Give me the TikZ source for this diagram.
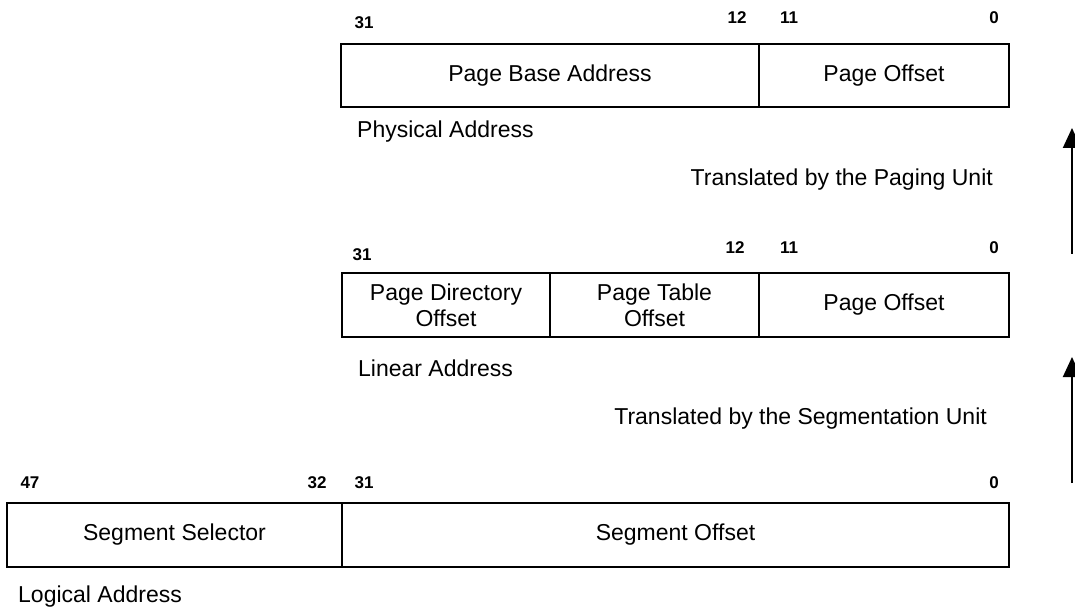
\documentclass[tikz,border=0pt]{standalone}
\usepackage{fontspec}
\setmainfont{Liberation Sans}
\usetikzlibrary{arrows.meta}
\tikzset{
  cell/.style={draw, line width=1.5bp, inner sep=0pt, align=center,
    font=\fontsize{23bp}{26bp}\selectfont},
  bit/.style={inner sep=0pt, font=\fontsize{17bp}{19bp}\selectfont\bfseries},
  caption/.style={inner sep=0pt, font=\fontsize{23bp}{26bp}\selectfont},
  uparrow/.style={line width=2bp, -{Triangle[length=20bp,width=18bp]}}
}
\begin{document}
\begin{tikzpicture}[x=1bp,y=-1bp]
\useasboundingbox (0,0) rectangle (1075,612);
% Physical address
\node[cell, minimum width=418bp, minimum height=63bp] (pba) at (550,75.5) {Page Base Address};
\node[cell, minimum width=250bp, minimum height=63bp] (po1) at (884,75.5) {Page Offset};
\node[bit] (p31) at (364,23) {31};
\node[bit] (p12) at (737,18) {12};
\node[bit] (p11) at (789,18) {11};
\node[bit] (p0) at (994,18) {0};
\node[caption, anchor=west] (phys) at (357,132) {Physical Address};
\node[caption, anchor=east] (tpu) at (993,180) {Translated by the Paging Unit};
% Linear address
\node[cell, minimum width=208bp, minimum height=64bp] (pdo) at (446,305) {Page Directory\\Offset};
\node[cell, minimum width=209bp, minimum height=64bp] (pto) at (654.5,305) {Page Table\\Offset};
\node[cell, minimum width=250bp, minimum height=64bp] (po2) at (884,305) {Page Offset};
\node[bit] (l31) at (362,255) {31};
\node[bit] (l12) at (735,248) {12};
\node[bit] (l11) at (789,248) {11};
\node[bit] (l0) at (994,248) {0};
\node[caption, anchor=west] (lin) at (358,368) {Linear Address};
\node[caption, anchor=east] (tsu) at (987,419) {Translated by the Segmentation Unit};
% Logical address
\node[cell, minimum width=335bp, minimum height=64bp] (ss) at (174.5,535) {Segment Selector};
\node[cell, minimum width=667bp, minimum height=64bp] (so) at (675.5,535) {Segment Offset};
\node[bit] (g47) at (30,483) {47};
\node[bit] (g32) at (317,483) {32};
\node[bit] (g31) at (364,483) {31};
\node[bit] (g0) at (994,483) {0};
\node[caption, anchor=west] (log) at (18,597) {Logical Address};
% arrows
\coordinate (a1s) at (1072,254);
\coordinate (a1e) at (1072,128);
\coordinate (a2s) at (1072,483);
\coordinate (a2e) at (1072,357);
\draw[uparrow] (a1s) -- (a1e);
\draw[uparrow] (a2s) -- (a2e);
\end{tikzpicture}
\end{document}
